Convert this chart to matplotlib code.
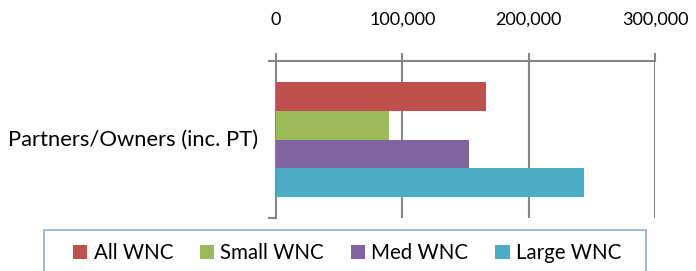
import matplotlib.pyplot as plt
from matplotlib.patches import Patch, Rectangle
from matplotlib.ticker import FuncFormatter

plt.rcParams["font.family"] = ["Lato", "DejaVu Sans"]

category = "Partners/Owners (inc. PT)"
series = ["All WNC", "Small WNC", "Med WNC", "Large WNC"]
values = [166000, 89500, 152800, 243900]
colors = ["#c0504d", "#9bbb59", "#8064a2", "#4bacc6"]

W, H = 696, 271
fig = plt.figure(figsize=(W / 100, H / 100), dpi=100)
ax = fig.add_axes([276 / W, 1 - 218 / H, 379 / W, 157 / H])

pos = list(range(len(series)))
ax.barh(pos, values, height=1.0, color=colors, zorder=3)
ax.set_ylim(4.23, -1.23)
ax.set_xlim(0, 300000)

grid_c = "#868686"
for v in [100000, 200000, 300000]:
    ax.axvline(v, color=grid_c, lw=1.5, zorder=1)

ax.xaxis.tick_top()
ax.set_xticks([0, 100000, 200000, 300000])
ax.xaxis.set_major_formatter(FuncFormatter(lambda v, p: f"{int(v):,}"))
ax.tick_params(axis="x", direction="out", length=6, width=1.5, color=grid_c,
               labelsize=13, pad=18)

ax.set_yticks([-1.23, 4.23])
ax.set_yticklabels(["", ""])
ax.tick_params(axis="y", direction="out", length=6, width=1.5, color=grid_c)
ax.text(-0.0475, 0.5, category, transform=ax.transAxes, ha="right",
        va="center", fontsize=15.8)

for s in ["right", "bottom"]:
    ax.spines[s].set_visible(False)
for s in ["top", "left"]:
    ax.spines[s].set_color(grid_c)
    ax.spines[s].set_linewidth(1.5)

# legend box (runs off the bottom edge like the original)
fig.patches.append(Rectangle((44 / W, -0.05), 602 / W, 1 - 230 / H + 0.05,
                             transform=fig.transFigure, fill=False,
                             edgecolor="#95b3d7", lw=1.3))

handles = [Patch(facecolor=c, label=s) for c, s in zip(colors, series)]
fig.legend(handles=handles, ncol=4, loc="center left",
           bbox_to_anchor=(73 / W, 1 - 253 / H),
           fontsize=14.8, frameon=False,
           handlelength=0.7, handleheight=0.7, handletextpad=0.3,
           columnspacing=1.3, borderpad=0, borderaxespad=0)

fig.savefig("out.png", dpi=100)
